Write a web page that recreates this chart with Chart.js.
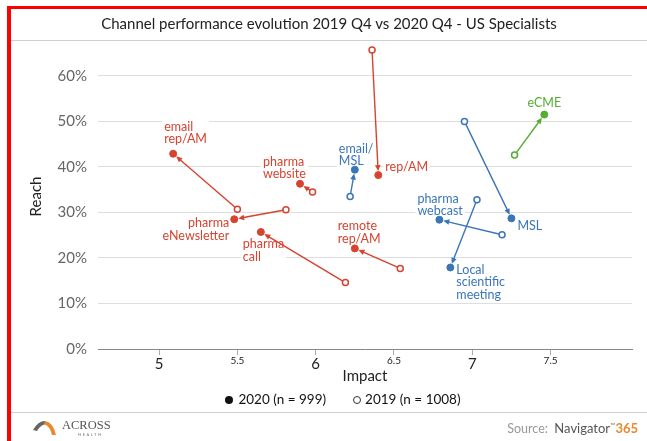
<!DOCTYPE html>
<html lang="en">
<head>
  <meta charset="UTF-8">
  <title>Channel performance evolution 2019 Q4 vs 2020 Q4 - US Specialists</title>
  <script src="https://cdn.jsdelivr.net/npm/chart.js"></script>
  <style>
    body { margin: 0; background: #fff; font-family: Lato, sans-serif; }
    #wrap { position: relative; width: 647px; height: 441px; overflow: hidden; }
    #chart { position: absolute; left: 0; top: 0; }
    .red { position: absolute; background: #ff0000; }
    .rule { position: absolute; left: 11px; right: 0; height: 1px; background: #cfcfcf; }
    #title { position: absolute; left: 11px; right: 0; top: 14px; text-align: center; font-size: 15px; color: #222; }
    #legend { position: absolute; top: 391px; left: 0; width: 686px; text-align: center; font-size: 13.5px; color: #111; line-height: 16px; }
    #legend span.dot { display: inline-block; width: 8px; height: 8px; border-radius: 50%; background: #111; margin-right: 5px; vertical-align: 0px; }
    #legend span.ring { display: inline-block; width: 6px; height: 6px; border-radius: 50%; border: 1px solid #333; margin-right: 4px; margin-left: 27px; vertical-align: 0px; }
    #logo { position: absolute; left: 32px; top: 417px; }
    #source { position: absolute; right: 9px; top: 420px; font-size: 12.5px; color: #999; }
    #source b { font-weight: normal; color: #555; font-size: 13px; }
    #source sup { font-size: 7px; color: #777; vertical-align: 5px; }
    #source i { font-style: normal; font-weight: bold; color: #e8892f; font-size: 13px; }
  </style>
</head>
<body>
<div id="wrap">
  <canvas id="chart" width="647" height="441"></canvas>
  <div class="red" style="left:7px;top:6px;width:640px;height:3px"></div>
  <div class="red" style="left:7px;top:6px;width:4px;height:435px"></div>
  <div id="title">Channel performance evolution 2019 Q4 vs 2020 Q4 - US Specialists</div>
  <div class="rule" style="top:40px"></div>
  <div id="legend"><span class="dot"></span>2020 (n = 999)<span class="ring"></span>2019 (n = 1008)</div>
  <div class="rule" style="top:412px"></div>
  <svg id="logo" width="82" height="22" viewBox="0 0 82 22">
    <path d="M1 13 Q6 4 13 4 L15 7 Q9 7 5 14 Z" fill="#666"/>
    <path d="M13 4 Q21 5 24 18 L20 18 Q18 9 12 7 Z" fill="#e8892f"/>
    <text x="30" y="12" font-family="Liberation Serif, serif" font-size="12.5" fill="#555">ACROSS</text>
    <text x="46" y="19" font-family="Lato, sans-serif" font-size="4" letter-spacing="1.6" fill="#777">HEALTH</text>
  </svg>
  <div id="source">Source:&nbsp; <b>Navigator</b><sup>™</sup><i>365</i></div>
</div>

<script>
  // one entry per channel, 2019 -> 2020
  const channels = ['email rep/AM', 'pharma eNewsletter', 'pharma website', 'email/MSL', 'rep/AM',
    'pharma call', 'remote rep/AM', 'pharma webcast', 'Local scientific meeting', 'MSL', 'eCME'];
  const labelText = ['email\nrep/AM', 'pharma\neNewsletter', 'pharma\nwebsite', 'email/\nMSL', 'rep/AM',
    'pharma\ncall', 'remote\nrep/AM', 'pharma\nwebcast', 'Local\nscientific\nmeeting', 'MSL', 'eCME'];
  const group = ['rep', 'rep', 'rep', 'msl', 'rep', 'rep', 'rep', 'msl', 'msl', 'msl', 'ecme'];

  const impact2019 = [5.50, 5.81, 5.98, 6.22, 6.36, 6.19, 6.54, 7.19, 7.03, 6.95, 7.27];
  const reach2019  = [0.307, 0.306, 0.345, 0.335, 0.657, 0.146, 0.177, 0.251, 0.328, 0.500, 0.426];
  const impact2020 = [5.09, 5.48, 5.90, 6.25, 6.40, 5.65, 6.25, 6.79, 6.86, 7.25, 7.46];
  const reach2020  = [0.429, 0.285, 0.363, 0.394, 0.382, 0.257, 0.221, 0.284, 0.179, 0.287, 0.515];

  const xTicks = [5, 5.5, 6, 6.5, 7, 7.5];
  const yTicks = [0, 0.1, 0.2, 0.3, 0.4, 0.5, 0.6];

  const colors = { rep: '#d6432f', msl: '#3a76b7', ecme: '#55ad32' };

  // label placement relative to the 2020 point: dx, dy (first line), align
  const labelPos = [
    [-9, -27, 'left'], [-5, 4, 'right'], [-37, -22, 'left'], [-16, -21, 'left'], [7, -8, 'left'],
    [-18, 12, 'left'], [-17, -22, 'left'], [-22, -21, 'left'], [6, 2, 'left'], [6, 8, 'left'], [0, -12, 'center']
  ];
  const LH = 12.5;

  const channelLabels = {
    id: 'channelLabels',
    beforeDatasetsDraw(chart) {
      const { ctx, scales: { x, y } } = chart;
      ctx.save();
      ctx.font = '12.5px Lato';
      ctx.textBaseline = 'middle';
      channels.forEach((c, i) => {
        const px = x.getPixelForValue(impact2020[i]);
        const py = y.getPixelForValue(reach2020[i]);
        const [dx, dy, align] = labelPos[i];
        const lines = labelText[i].split('\n');
        const w = Math.max(...lines.map(l => ctx.measureText(l).width));
        const left = align === 'left' ? px + dx : align === 'right' ? px + dx - w : px + dx - w / 2;
        ctx.fillStyle = '#fff';
        ctx.fillRect(left - 2, py + dy - 7, w + 4, lines.length * LH + 1);
        ctx.fillStyle = colors[group[i]];
        ctx.textAlign = align;
        lines.forEach((l, k) => ctx.fillText(l, px + dx, py + dy + k * LH));
      });

      // arrows 2019 -> 2020
      channels.forEach((c, i) => {
        const x0 = x.getPixelForValue(impact2019[i]), y0 = y.getPixelForValue(reach2019[i]);
        const x1 = x.getPixelForValue(impact2020[i]), y1 = y.getPixelForValue(reach2020[i]);
        const a = Math.atan2(y1 - y0, x1 - x0);
        const tx = x1 - Math.cos(a) * 4, ty = y1 - Math.sin(a) * 4;
        ctx.strokeStyle = ctx.fillStyle = colors[group[i]];
        ctx.lineWidth = 1.4;
        ctx.beginPath();
        ctx.moveTo(x0, y0);
        ctx.lineTo(tx - Math.cos(a) * 4, ty - Math.sin(a) * 4);
        ctx.stroke();
        ctx.beginPath();
        ctx.moveTo(tx, ty);
        ctx.lineTo(tx - Math.cos(a) * 6 + Math.sin(a) * 2.8, ty - Math.sin(a) * 6 - Math.cos(a) * 2.8);
        ctx.lineTo(tx - Math.cos(a) * 6 - Math.sin(a) * 2.8, ty - Math.sin(a) * 6 + Math.cos(a) * 2.8);
        ctx.closePath();
        ctx.fill();
      });
      ctx.restore();
    }
  };

  const pointColors = group.map(g => colors[g]);

  new Chart(document.getElementById('chart'), {
    type: 'scatter',
    data: {
      datasets: [
        {
          label: '2020 (n = 999)',
          data: channels.map((c, i) => ({ x: impact2020[i], y: reach2020[i] })),
          pointRadius: 3.5,
          pointBackgroundColor: pointColors,
          pointBorderColor: pointColors,
          pointBorderWidth: 1
        },
        {
          label: '2019 (n = 1008)',
          data: channels.map((c, i) => ({ x: impact2019[i], y: reach2019[i] })),
          pointRadius: 3,
          pointBackgroundColor: '#fff',
          pointBorderColor: pointColors,
          pointBorderWidth: 1.5
        }
      ]
    },
    options: {
      responsive: false,
      animation: false,
      layout: { padding: { left: 11, top: 44, right: 15, bottom: 50 } },
      plugins: { legend: { display: false }, tooltip: { enabled: false } },
      scales: {
        x: {
          type: 'linear',
          min: 4.61,
          max: 8.02,
          afterBuildTicks: s => { s.ticks = xTicks.map(v => ({ value: v })); },
          afterFit: s => { s.height = 42; },
          grid: { drawOnChartArea: false, drawTicks: true, tickLength: 6, color: '#aaa' },
          border: { display: true, color: '#888', width: 1 },
          ticks: {
            padding: 0,
            color: '#222',
            font: c => (c.tick && Number.isInteger(c.tick.value)) ? { family: 'Lato', size: 15 } : { family: 'Lato', size: 10 },
            callback: v => String(v)
          },
          title: { display: true, text: 'Impact', color: '#222', font: { family: 'Lato', size: 15 }, padding: { top: 0, bottom: 6 } }
        },
        y: {
          min: 0,
          max: 0.67,
          afterBuildTicks: s => { s.ticks = yTicks.map(v => ({ value: v })); },
          afterFit: s => { s.width = 87; },
          grid: { drawTicks: false, color: c => (c.tick && c.tick.value === 0) ? 'rgba(0,0,0,0)' : '#dedede' },
          border: { display: false },
          ticks: {
            padding: 11,
            color: '#666',
            font: { family: 'Lato', size: 15 },
            callback: v => Math.round(v * 100) + '%'
          },
          title: { display: true, text: 'Reach', color: '#222', font: { family: 'Lato', size: 15 }, padding: { top: 16, bottom: 0 } }
        }
      }
    },
    plugins: [channelLabels]
  });
</script>
</body>
</html>
